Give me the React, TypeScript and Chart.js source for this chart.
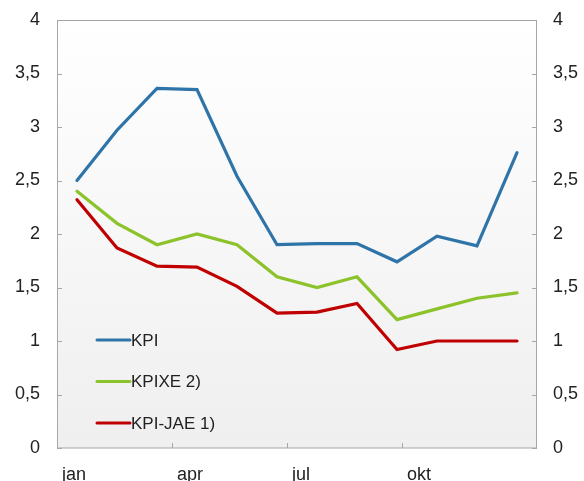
import React, { useEffect, useRef } from "react";
import { Chart, registerables } from "chart.js";

Chart.register(...registerables);

const months = ["jan", "feb", "mar", "apr", "mai", "jun", "jul", "aug", "sep", "okt", "nov", "des"];
const kpi = [2.5, 2.97, 3.36, 3.35, 2.54, 1.9, 1.91, 1.91, 1.74, 1.98, 1.89, 2.76];
const kpixe = [2.4, 2.1, 1.9, 2.0, 1.9, 1.6, 1.5, 1.6, 1.2, 1.3, 1.4, 1.45];
const kpijae = [2.32, 1.87, 1.7, 1.69, 1.51, 1.26, 1.27, 1.35, 0.92, 1.0, 1.0, 1.0];
const seriesLabels = ["KPI", "KPIXE 2)", "KPI-JAE 1)"];
const xTickLabels = ["jan", "apr", "jul", "okt"];
const xTickValues = [0, 2.875, 5.75, 8.625];
const yTicks = [0, 0.5, 1, 1.5, 2, 2.5, 3, 3.5, 4];

const colors = ["#2f74a9", "#8cc22a", "#c00000"];
const FONT = "Arial, 'Liberation Sans', sans-serif";

const framePlugin = {
  id: "frame",
  beforeDatasetsDraw(chart: any) {
    const { ctx, chartArea: a } = chart;
    ctx.save();
    const g = ctx.createLinearGradient(0, a.top, 0, a.bottom);
    g.addColorStop(0, "#ffffff");
    g.addColorStop(1, "#efefef");
    ctx.fillStyle = g;
    ctx.fillRect(a.left, a.top, a.right - a.left, a.bottom - a.top);
    ctx.strokeStyle = "#a6a6a6";
    ctx.lineWidth = 1;
    ctx.strokeRect(a.left + 0.5, a.top + 0.5, a.right - a.left - 1, a.bottom - a.top - 0.5);
    const ys = chart.scales.y;
    ctx.beginPath();
    yTicks.forEach((v) => {
      const py = Math.round(ys.getPixelForValue(v)) + 0.5;
      ctx.moveTo(a.left, py);
      ctx.lineTo(a.left + 5, py);
      ctx.moveTo(a.right, py);
      ctx.lineTo(a.right - 5, py);
    });
    const xs = chart.scales.x;
    xTickValues.forEach((v) => {
      const px = Math.round(xs.getPixelForValue(v)) + 0.5;
      ctx.moveTo(px, a.bottom);
      ctx.lineTo(px, a.bottom - 5);
    });
    ctx.stroke();
    ctx.restore();
  },
  afterDatasetsDraw(chart: any) {
    const { ctx, chartArea: a } = chart;
    ctx.save();
    ctx.font = `17px ${FONT}`;
    ctx.textBaseline = "middle";
    chart.data.datasets.forEach((ds: any, i: number) => {
      const y = a.bottom - 108 + i * 41.5;
      const x0 = a.left + 40;
      ctx.strokeStyle = ds.borderColor;
      ctx.lineWidth = 3;
      ctx.lineCap = "round";
      ctx.beginPath();
      ctx.moveTo(x0, y);
      ctx.lineTo(x0 + 33, y);
      ctx.stroke();
      ctx.fillStyle = "#222222";
      ctx.fillText(ds.label, x0 + 34, y + 1);
    });
    ctx.restore();
  },
};

export default function App() {
  const ref = useRef<HTMLCanvasElement | null>(null);
  useEffect(() => {
    document.body.style.margin = "0";
    const mk = (vals: number[], i: number) => ({
      label: seriesLabels[i],
      data: vals.map((v, j) => ({ x: j + 0.5, y: v })),
      borderColor: colors[i],
      backgroundColor: colors[i],
      borderWidth: 3.2,
      pointRadius: 0,
      tension: 0,
      borderCapStyle: "round" as const,
    });
    const tickFont = { family: FONT, size: 18 };
    const yFit = (w: number) => (s: any) => {
      s.width = w;
      s.paddingTop = 0;
      s.paddingBottom = 0;
    };
    const chart = new Chart(ref.current!, {
      type: "line",
      data: {
        labels: months,
        datasets: [mk(kpi, 0), mk(kpixe, 1), mk(kpijae, 2)],
      },
      plugins: [framePlugin],
      options: {
        animation: false,
        responsive: false,
        layout: { padding: { top: 20, left: 0, right: 0, bottom: 0 } },
        plugins: { legend: { display: false }, tooltip: { enabled: false } },
        scales: {
          x: {
            type: "linear",
            min: 0,
            max: 12,
            afterBuildTicks: (s: any) => {
              s.ticks = xTickValues.map((v) => ({ value: v }));
            },
            afterFit: (s: any) => {
              s.height = 33;
              s.paddingLeft = 0;
              s.paddingRight = 0;
            },
            grid: { display: false, drawTicks: false },
            border: { display: false },
            ticks: {
              autoSkip: false,
              maxRotation: 0,
              align: "start",
              labelOffset: 5,
              padding: 16,
              color: "#222222",
              font: tickFont,
              callback: (_v: any, i: number) => xTickLabels[i],
            },
          },
          y: {
            position: "left",
            min: 0,
            max: 4,
            afterBuildTicks: (s: any) => {
              s.ticks = yTicks.map((v) => ({ value: v }));
            },
            afterFit: yFit(57),
            grid: { display: false, drawTicks: false },
            border: { display: false },
            ticks: {
              padding: 17,
              color: "#222222",
              font: tickFont,
              callback: (v: any) => String(v).replace(".", ","),
            },
          },
          y2: {
            position: "right",
            min: 0,
            max: 4,
            afterBuildTicks: (s: any) => {
              s.ticks = yTicks.map((v) => ({ value: v }));
            },
            afterFit: yFit(47),
            grid: { display: false, drawTicks: false },
            border: { display: false },
            ticks: {
              padding: 16,
              color: "#222222",
              font: tickFont,
              callback: (v: any) => String(v).replace(".", ","),
            },
          },
        },
      } as any,
    });
    return () => chart.destroy();
  }, []);
  return (
    <div style={{ width: 584, height: 481 }}>
      <canvas ref={ref} width={584} height={481} />
    </div>
  );
}
